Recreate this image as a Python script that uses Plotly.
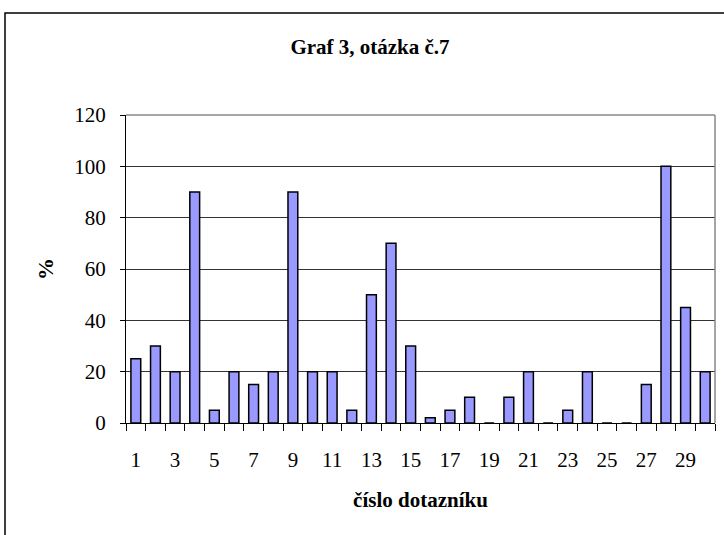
import plotly.graph_objects as go

questionnaires = list(range(1, 31))
percent = [25, 30, 20, 90, 5, 20, 15, 20, 90, 20,
           20, 5, 50, 70, 30, 2, 5, 10, 0, 10,
           20, 0, 5, 20, 0, 0, 15, 100, 45, 20]
x_tick_labels = [str(v) for v in range(1, 30, 2)]
y_ticks = [0, 20, 40, 60, 80, 100, 120]

FONT = "Liberation Serif, Times New Roman, serif"

fig = go.Figure()
fig.add_trace(go.Bar(
    x=questionnaires, y=percent,
    marker=dict(color="#9999FF", line=dict(color="black", width=1.5)),
    width=0.5,
))

L, R, T, B = 126, 9, 115, 112
W, H = 724, 535
pw, ph = W - L - R, H - T - B

fig.update_layout(
    width=W, height=H,
    margin=dict(l=L, r=R, t=T, b=B),
    paper_bgcolor="white", plot_bgcolor="white",
    showlegend=False,
    title=dict(text="<b>Graf 3, otázka č.7</b>", x=370 / W, xanchor="center",
               y=1 - 47 / H, yanchor="middle",
               font=dict(family=FONT, size=21, color="black")),
    font=dict(family=FONT, color="black"),
)
fig.update_xaxes(
    range=[0.5, 30.5],
    tickmode="array", tickvals=list(range(1, 30, 2)), ticktext=x_tick_labels,
    ticks="", showgrid=False,
    tickfont=dict(family=FONT, size=21, color="black"),
    ticklabelstandoff=18,
    showline=True, linecolor="black", linewidth=1,
    minor=dict(tickmode="linear", tick0=0.5, dtick=1, ticks="outside",
               ticklen=7, tickcolor="black", showgrid=False),
    title=dict(text="<b>číslo dotazníku</b>", standoff=21,
               font=dict(family=FONT, size=21, color="black")),
)
fig.update_yaxes(
    range=[0, 120],
    tickmode="array", tickvals=y_ticks,
    ticks="outside", ticklen=5, tickcolor="black",
    tickfont=dict(family=FONT, size=21, color="black"),
    ticklabelstandoff=10,
    showgrid=True, gridcolor="#333333", gridwidth=1,
    showline=True, linecolor="black", linewidth=1,
    zeroline=False,
    title=dict(text="<b>%</b>", standoff=14,
               font=dict(family=FONT, size=22, color="black")),
)
# plot-area border on top/right (grey)
fig.add_shape(type="line", xref="paper", yref="paper", x0=0, x1=1, y0=1, y1=1,
              line=dict(color="#888888", width=1.5))
fig.add_shape(type="line", xref="paper", yref="paper", x0=1, x1=1, y0=0, y1=1,
              line=dict(color="#888888", width=1.5))
# outer chart frame (cropped at right/bottom)
fig.add_shape(type="rect", xref="paper", yref="paper",
              x0=(5 - L) / pw, x1=1.2, y0=-1.0, y1=1 + (T - 13) / ph,
              line=dict(color="black", width=1.5), layer="below")

fig.write_html("out.html", config={"displayModeBar": False},
               post_script="document.body.style.margin='0';document.body.style.overflow='hidden';")
